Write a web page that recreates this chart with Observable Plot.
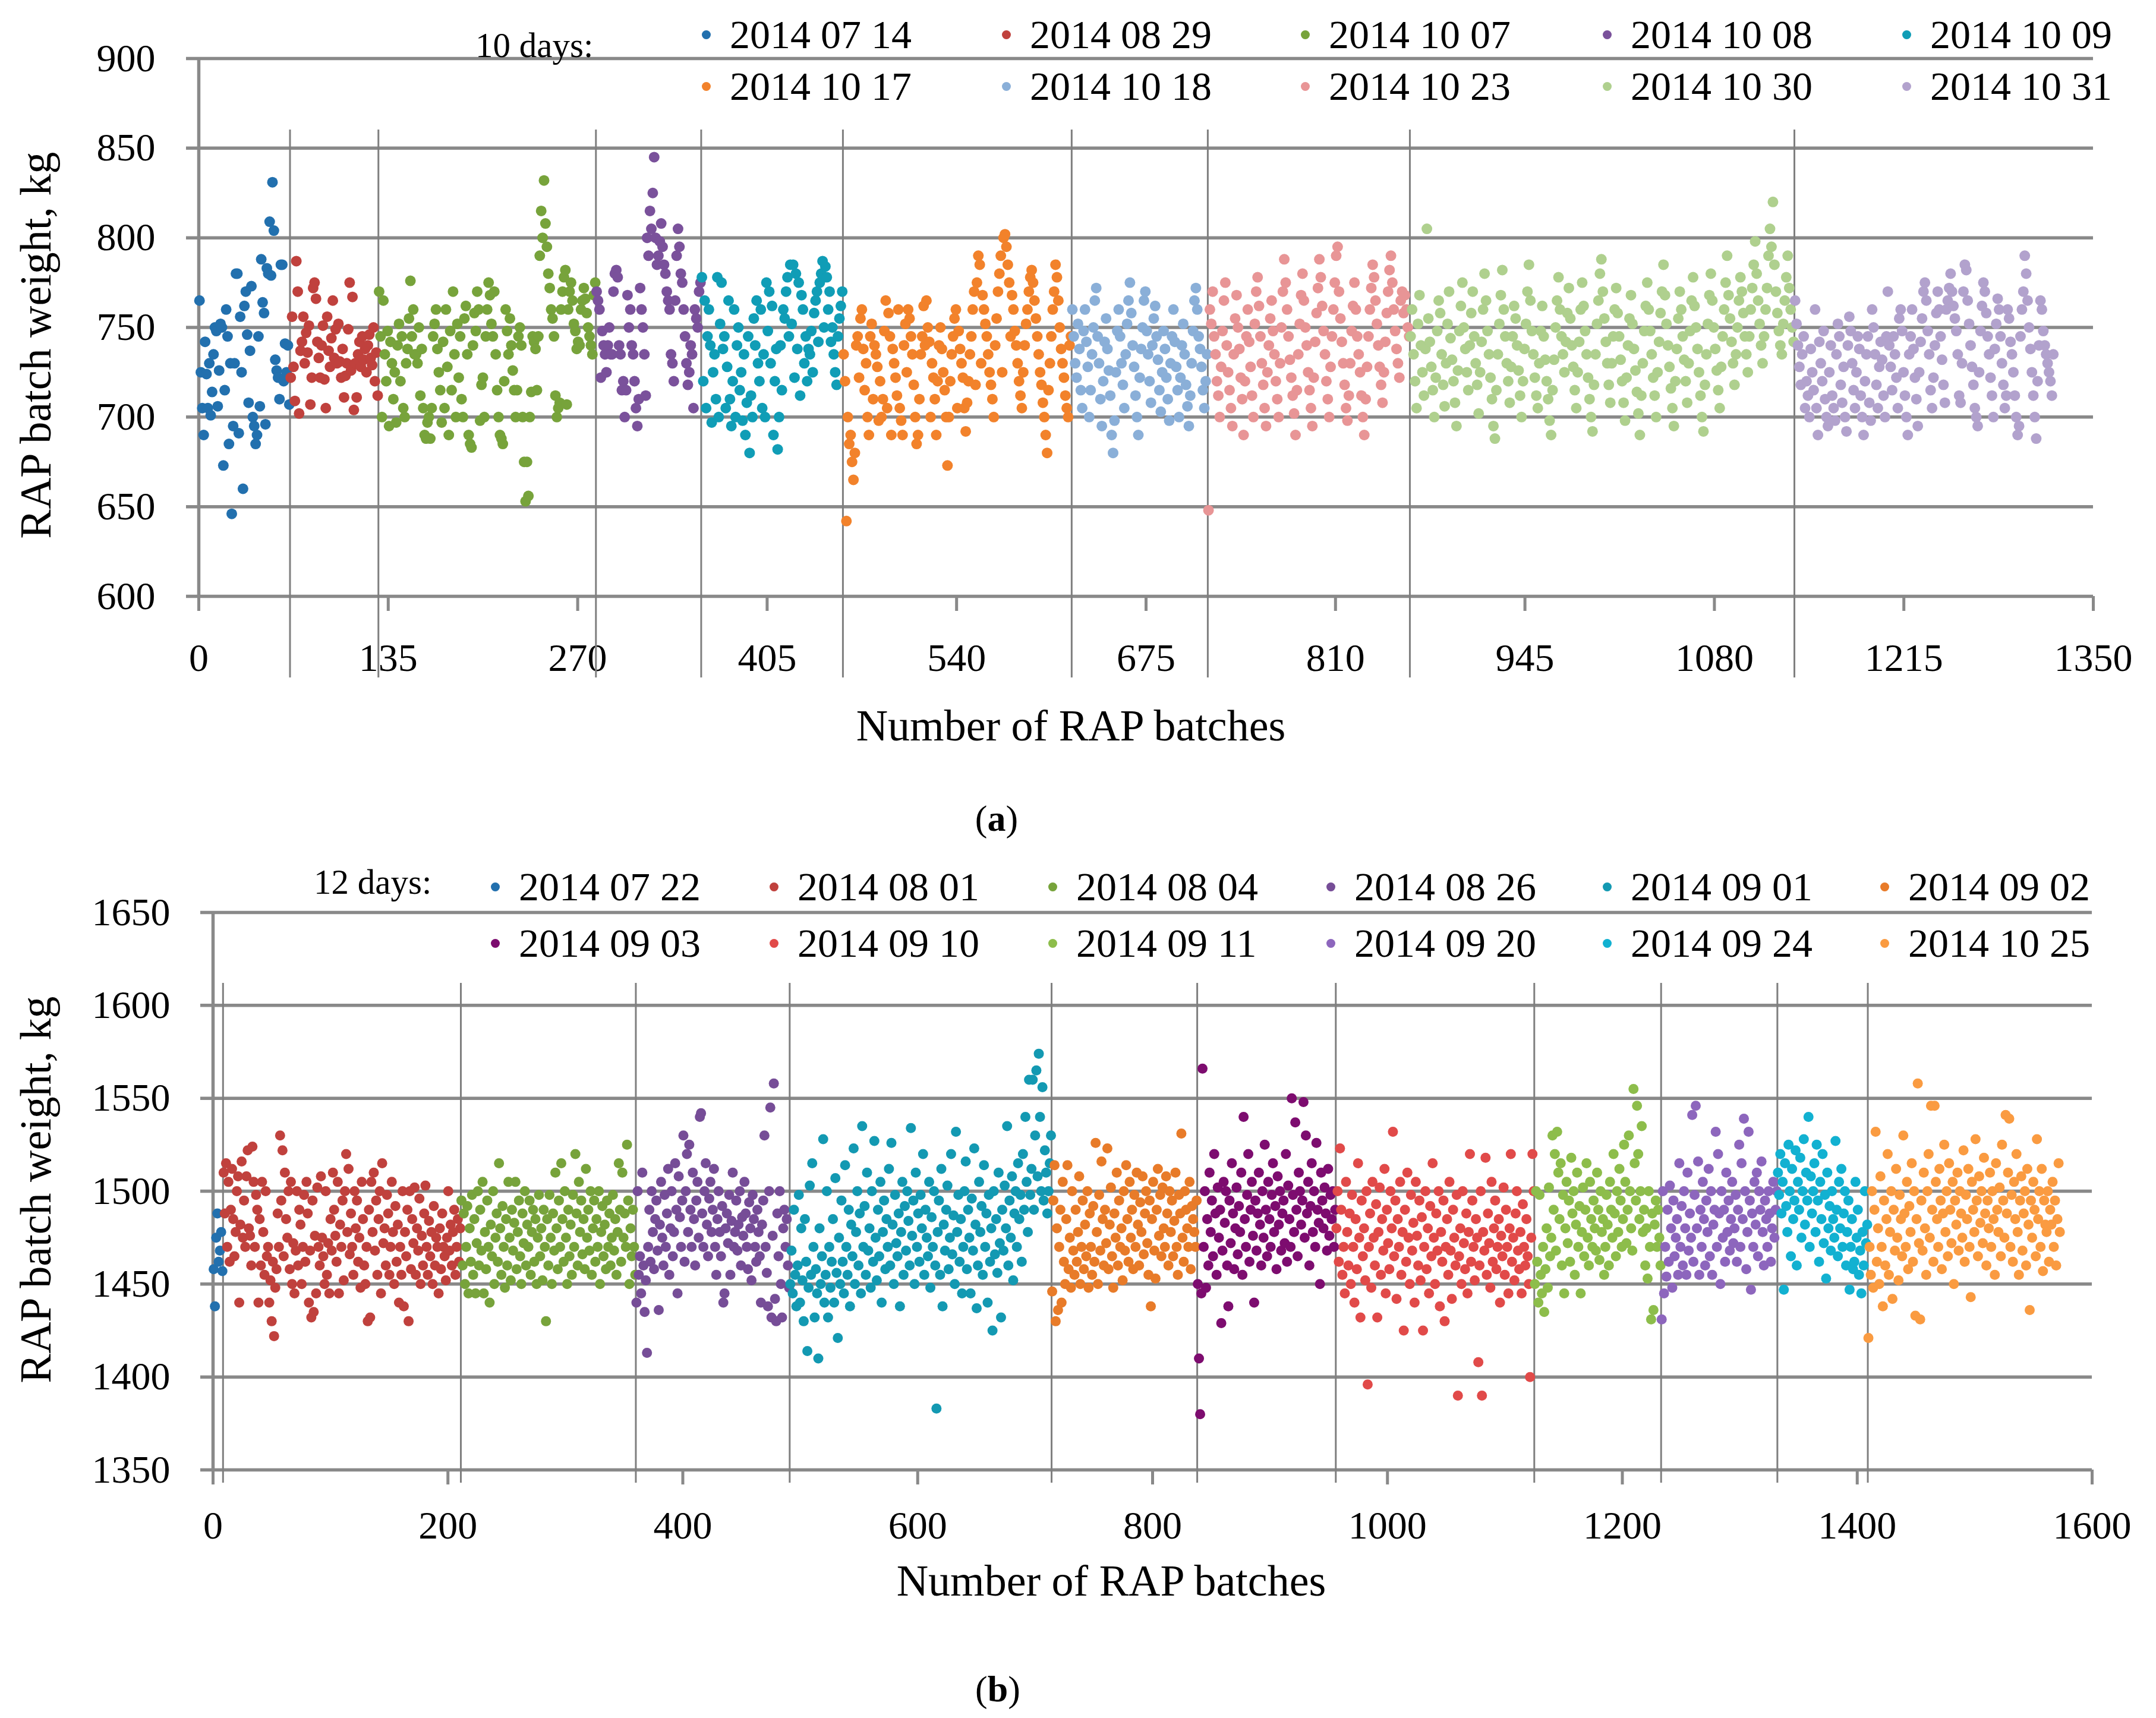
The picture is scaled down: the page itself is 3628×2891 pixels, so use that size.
<!DOCTYPE html>
<html><head><meta charset="utf-8">
<script src="https://cdn.jsdelivr.net/npm/d3@7"></script>
<script src="https://cdn.jsdelivr.net/npm/@observablehq/plot@0.6"></script>
<style>
html,body{margin:0;padding:0;background:#fff;}
#wrap{position:relative;width:3628px;height:2891px;background:#fff;font-family:"Liberation Serif",serif;color:#000;overflow:hidden;}
#wrap svg{position:absolute;left:0;}
.abs{position:absolute;white-space:nowrap;line-height:1;}
</style></head>
<body><div id="wrap"></div>
<script>
// ---------------- Panel (a) data ----------------
const datesA = ["2014 07 14","2014 08 29","2014 10 07","2014 10 08","2014 10 09","2014 10 17","2014 10 18","2014 10 23","2014 10 30","2014 10 31"];
const colorsA = ["#2270ae","#c0413d","#77a33b","#7a519b","#109db6","#f2822b","#8aafd8","#e89596","#afd08e","#b2a2cd"];
const boundsA = [0,65,128,283,358,459,622,719,863,1137,1322];   // day boundaries (batch no.)
const sepsA = [65,128,283,358,459,622,719,863,1137];
const xTicksA = [0,135,270,405,540,675,810,945,1080,1215,1350];
const yTicksA = [600,650,700,750,800,850,900];

const a0714 = [765,725,705,690,742,724,705,730,701,714,735,750,748,706,726,752,750,673,715,760,745,685,730,646,695,730,780,780,691,756,725,660,762,770,746,708,737,773,700,695,685,690,745,706,788,764,758,696,783,780,809,779,831,804,732,726,722,710,785,785,720,741,725,740,707];
const a0829 = [722,756,728,709,787,770,702,737,742,756,730,747,736,751,707,722,772,775,766,742,733,722,740,751,721,705,756,737,728,744,765,733,749,730,752,731,722,738,711,723,730,749,775,726,767,704,730,711,735,742,728,745,732,738,725,740,746,733,729,750,720,736,712];
const a1007 = [770,745,700,765,735,720,748,695,742,730,710,725,697,740,752,720,745,705,700,730,738,755,776,745,760,735,735,730,750,712,738,705,690,688,697,700,688,705,745,752,760,738,725,715,697,742,705,760,728,690,748,715,770,735,700,752,722,745,710,700,755,762,735,690,685,683,740,758,748,770,760,698,718,722,700,745,760,775,768,752,745,770,735,715,700,690,688,685,720,760,748,735,755,740,726,715,700,715,745,750,740,700,675,653,675,656,700,714,745,742,738,715,745,790,815,800,832,808,795,780,772,760,755,745,712,700,705,708,760,770,778,782,707,760,770,775,765,752,748,738,742,740,760,765,772,766,758,750,745,740,735,768,775];
const a1008 = [770,765,760,722,748,740,735,725,740,750,735,735,770,780,782,778,740,735,715,720,700,715,768,750,760,740,735,720,705,695,710,772,760,750,735,712,800,790,815,805,825,845,800,785,790,798,808,795,785,780,770,765,760,735,730,720,765,790,805,795,780,775,760,745,730,718,725,740,735,705,760,755,750,770,775];
const a1009 = [778,720,765,705,745,760,740,697,725,735,710,778,700,752,775,738,745,705,728,765,710,695,720,760,700,740,750,715,725,698,735,690,708,745,680,712,700,755,740,765,730,720,760,705,735,700,775,748,770,730,762,690,720,738,682,700,740,715,760,755,770,778,745,785,752,785,722,780,738,775,712,768,760,730,745,720,738,735,748,725,758,765,770,742,775,780,787,750,784,778,760,770,742,750,735,725,718,745,755,762,770];
const a1017 = [735,720,642,700,685,690,675,665,680,740,745,722,755,760,738,715,730,700,690,745,752,710,740,735,728,698,720,700,710,748,765,705,758,745,690,738,730,722,712,760,705,698,690,740,752,725,760,755,745,735,718,700,685,690,710,735,745,762,740,765,750,742,700,730,722,710,690,720,740,750,738,725,715,700,673,700,720,735,745,755,760,705,748,738,730,722,705,692,708,720,735,745,760,770,718,775,790,785,730,768,760,752,745,735,725,718,710,700,740,755,770,780,790,725,800,802,795,785,775,745,768,760,748,740,730,720,712,705,725,740,752,760,770,778,782,775,765,755,745,735,725,718,708,700,690,680,715,730,745,760,770,785,778,765,750,738,730,722,712,705,700,740,745];
const a1018 = [760,745,730,722,752,738,715,705,748,760,742,728,700,715,735,750,765,772,745,730,710,695,720,742,755,738,726,712,690,680,698,725,748,760,745,730,718,705,735,752,765,775,758,740,728,712,700,690,722,738,750,765,770,748,735,720,708,740,755,762,745,732,715,703,725,748,738,722,710,698,730,745,760,742,728,715,700,722,740,752,735,718,706,695,712,730,748,765,772,760,745,738,728,715,705,720,735];
const a1023 = [648,760,752,770,745,735,720,712,700,728,748,765,775,740,725,715,705,695,735,755,768,750,738,722,710,690,720,745,760,742,728,712,700,752,770,778,762,745,730,718,705,695,725,740,755,765,748,735,720,710,700,730,750,770,788,775,760,745,732,722,712,702,690,715,735,752,768,780,765,750,740,725,715,705,695,722,742,758,772,788,778,762,748,735,720,710,700,728,745,760,775,790,795,770,755,742,730,718,705,698,712,730,748,762,775,760,745,735,725,712,700,690,710,728,745,760,772,785,778,765,752,740,728,718,708,725,742,758,770,782,790,775,760,748,738,730,722,765,770,758,768,760,750,745];
const a1030 = [745,760,735,720,705,752,768,740,725,712,738,805,755,742,728,715,700,722,748,765,758,735,718,706,730,752,770,744,732,720,708,695,726,748,762,775,750,738,725,715,740,758,770,745,730,718,702,725,742,760,780,765,748,735,722,710,695,688,715,735,752,768,782,760,745,730,720,708,728,745,762,755,740,726,712,700,720,738,752,770,785,765,748,735,722,712,705,730,748,762,745,732,720,710,698,690,715,732,750,765,778,760,745,735,725,742,758,772,755,740,728,715,705,725,742,760,775,762,748,735,722,710,700,692,718,735,752,765,780,788,770,755,742,730,718,708,730,745,760,772,758,745,732,720,708,698,722,740,755,768,752,738,726,714,702,690,712,730,748,762,775,760,748,735,722,712,700,725,742,758,770,785,768,752,740,728,716,705,695,720,738,755,770,760,745,732,720,708,730,748,765,778,762,750,738,725,712,700,692,718,735,752,768,780,765,750,738,726,715,705,728,745,760,775,790,768,755,742,730,718,735,750,765,778,770,758,745,735,725,745,760,772,785,798,780,765,752,740,730,745,760,772,790,805,795,820,785,770,758,748,740,735,752,765,778,790,772,760,750,742];
const a1031 = [765,752,740,728,718,735,745,705,720,712,700,738,725,715,760,705,690,742,730,720,748,710,700,695,725,740,712,705,698,735,752,745,718,708,728,700,692,740,756,748,730,715,705,725,745,738,712,700,690,720,735,745,708,698,760,750,735,718,705,728,742,732,712,700,745,770,740,728,715,745,735,722,705,755,760,748,725,712,700,690,735,745,760,738,722,710,695,725,742,755,770,775,765,748,735,715,705,722,740,758,770,760,745,732,718,708,760,765,772,780,770,762,755,748,735,712,708,730,770,785,782,765,752,740,728,718,705,700,695,725,748,762,775,770,758,745,735,722,712,700,738,752,766,760,745,730,718,705,712,760,755,742,735,725,712,700,690,695,745,760,770,790,780,765,750,738,725,712,700,688,720,740,765,760,748,740,735,730,725,720,712,735];
const seriesA = [a0714,a0829,a1007,a1008,a1009,a1017,a1018,a1023,a1030,a1031];

// ---------------- Panel (b) data ----------------
const datesB = ["2014 07 22","2014 08 01","2014 08 04","2014 08 26","2014 09 01","2014 09 02","2014 09 03","2014 09 10","2014 09 11","2014 09 20","2014 09 24","2014 10 25"];
const colorsB = ["#2270ae","#c0413d","#77a33b","#764d97","#1399b2","#e87b29","#7d0c6f","#e14a49","#8dbd4b","#8d66bd","#12b1d1","#fa9b41"];
const boundsB = [0,8.5,211,360,491,714,838,956,1125,1233,1332,1409,1573];
const sepsB = [8.5,211,360,491,714,838,956,1125,1233,1332,1409];
const xTicksB = [0,200,400,600,800,1000,1200,1400,1600];
const yTicksB = [1350,1400,1450,1500,1550,1600,1650];

const b0722 = [1458,1438,1475,1488,1462,1468,1478,1457];
const b0801 = [1510,1488,1515,1470,1505,1462,1490,1512,1485,1465,1478,1500,1508,1440,1482,1516,1475,1495,1470,1508,1522,1480,1476,1460,1524,1505,1470,1498,1490,1440,1485,1460,1505,1478,1455,1500,1465,1470,1440,1452,1430,1462,1422,1448,1458,1488,1470,1530,1495,1522,1465,1510,1485,1475,1500,1458,1505,1450,1472,1445,1468,1500,1460,1490,1482,1450,1470,1498,1462,1505,1488,1440,1468,1432,1495,1435,1476,1445,1502,1470,1460,1508,1475,1465,1450,1500,1455,1472,1445,1485,1468,1510,1490,1476,1462,1505,1445,1482,1470,1495,1452,1500,1520,1478,1512,1466,1488,1470,1455,1500,1480,1495,1462,1475,1448,1505,1485,1460,1450,1470,1430,1490,1432,1505,1478,1510,1468,1495,1455,1485,1500,1445,1515,1472,1480,1460,1498,1488,1455,1470,1505,1478,1450,1492,1462,1482,1440,1470,1455,1500,1438,1478,1465,1490,1430,1500,1458,1485,1472,1502,1455,1480,1468,1496,1450,1476,1460,1488,1503,1470,1455,1484,1465,1478,1450,1492,1460,1475,1470,1445,1480,1458,1488,1470,1465,1452,1475,1500,1468,1482,1460,1478,1490,1455,1470,1485,1462,1480];
const b0804 = [1495,1460,1488,1450,1470,1492,1445,1480,1462,1498,1455,1485,1445,1472,1500,1460,1490,1468,1505,1445,1478,1458,1495,1470,1440,1482,1465,1500,1450,1475,1488,1462,1515,1480,1455,1492,1470,1448,1485,1460,1505,1475,1452,1490,1468,1483,1505,1458,1478,1495,1465,1450,1488,1472,1500,1460,1482,1470,1495,1455,1478,1490,1462,1485,1450,1475,1498,1465,1480,1452,1490,1470,1430,1485,1460,1498,1475,1450,1488,1468,1510,1480,1458,1495,1470,1515,1485,1462,1500,1475,1450,1490,1465,1482,1455,1498,1470,1520,1488,1460,1505,1478,1495,1466,1485,1458,1512,1475,1490,1468,1500,1455,1480,1495,1462,1485,1470,1500,1450,1478,1492,1465,1482,1458,1495,1470,1488,1460,1475,1498,1468,1485,1455,1478,1515,1490,1462,1510,1475,1488,1470,1525,1495,1450,1480,1465,1490,1470,1455];
const b0826 = [1440,1500,1455,1465,1445,1510,1460,1435,1452,1413,1470,1490,1462,1500,1478,1458,1485,1495,1468,1436,1482,1505,1475,1460,1498,1470,1488,1512,1455,1480,1500,1465,1478,1515,1490,1445,1508,1486,1470,1495,1530,1462,1500,1520,1478,1525,1490,1470,1510,1485,1460,1495,1505,1475,1540,1542,1488,1470,1500,1515,1482,1465,1496,1505,1478,1490,1512,1470,1455,1485,1500,1478,1465,1492,1440,1445,1480,1488,1472,1498,1455,1484,1510,1470,1478,1495,1468,1482,1500,1460,1486,1476,1505,1488,1470,1458,1494,1480,1452,1498,1485,1470,1462,1490,1478,1465,1440,1482,1495,1530,1470,1456,1438,1500,1545,1432,1476,1558,1442,1430,1488,1465,1500,1450,1432,1480,1490,1470,1485,1460,1448];
const b0901 = [1450,1468,1445,1490,1455,1438,1460,1498,1440,1480,1452,1430,1485,1462,1414,1448,1503,1455,1515,1470,1432,1458,1445,1410,1480,1450,1465,1528,1440,1455,1500,1432,1470,1448,1462,1485,1440,1507,1456,1421,1475,1450,1495,1462,1445,1514,1470,1455,1490,1438,1482,1465,1523,1450,1478,1500,1460,1488,1445,1535,1470,1492,1455,1510,1468,1480,1448,1500,1462,1527,1475,1452,1490,1465,1505,1440,1478,1495,1458,1485,1470,1512,1460,1526,1482,1450,1498,1472,1465,1488,1438,1478,1505,1455,1492,1468,1500,1484,1460,1534,1476,1495,1450,1510,1470,1488,1462,1498,1480,1520,1455,1490,1475,1465,1505,1448,1486,1470,1500,1460,1383,1478,1495,1455,1512,1438,1482,1468,1490,1503,1458,1475,1520,1466,1487,1450,1532,1478,1498,1462,1485,1445,1470,1500,1516,1458,1490,1475,1445,1496,1468,1523,1482,1437,1460,1505,1478,1492,1455,1514,1470,1488,1440,1498,1462,1480,1425,1500,1466,1485,1456,1510,1472,1432,1490,1468,1503,1480,1535,1460,1495,1475,1508,1452,1488,1500,1470,1515,1485,1498,1462,1520,1490,1540,1505,1478,1560,1498,1512,1560,1490,1530,1565,1508,1574,1540,1500,1556,1495,1522,1510,1488,1500,1515,1530];
const b0902 = [1446,1495,1514,1430,1480,1436,1470,1490,1440,1505,1462,1450,1485,1514,1458,1475,1448,1500,1468,1455,1490,1462,1478,1508,1450,1470,1495,1458,1482,1465,1500,1448,1488,1470,1455,1492,1462,1526,1478,1450,1498,1468,1516,1485,1460,1490,1472,1523,1458,1482,1502,1465,1448,1488,1475,1510,1460,1495,1470,1480,1452,1500,1468,1514,1485,1462,1505,1475,1490,1458,1498,1470,1510,1482,1460,1494,1478,1508,1466,1488,1500,1472,1455,1495,1438,1485,1505,1468,1453,1490,1512,1476,1498,1465,1502,1480,1470,1508,1488,1460,1500,1478,1495,1465,1484,1510,1470,1455,1498,1488,1531,1475,1462,1500,1490,1480,1470,1505,1458,1492,1485,1478,1470,1495];
const b0903 = [1450,1410,1380,1445,1566,1470,1500,1448,1485,1460,1510,1478,1495,1465,1520,1488,1455,1502,1475,1490,1429,1468,1505,1483,1500,1460,1438,1495,1472,1515,1488,1458,1480,1502,1466,1492,1478,1510,1455,1540,1485,1470,1498,1520,1462,1490,1505,1476,1440,1495,1468,1488,1510,1482,1460,1500,1475,1525,1490,1465,1505,1485,1470,1498,1515,1478,1492,1458,1508,1482,1500,1468,1488,1495,1472,1520,1462,1503,1485,1470,1550,1498,1478,1537,1490,1465,1510,1500,1482,1495,1548,1475,1530,1488,1505,1460,1492,1515,1478,1500,1470,1526,1490,1483,1450,1510,1495,1480,1502,1488,1468,1512,1476,1498,1485,1500,1470,1490];
const b0910 = [1480,1500,1462,1523,1490,1455,1470,1445,1505,1478,1460,1488,1450,1498,1470,1440,1485,1458,1515,1475,1432,1495,1465,1480,1452,1500,1396,1470,1488,1448,1505,1475,1460,1493,1432,1478,1502,1455,1485,1468,1512,1445,1490,1472,1458,1500,1480,1532,1465,1495,1442,1485,1470,1505,1455,1478,1425,1490,1462,1510,1475,1450,1498,1468,1483,1440,1505,1476,1460,1495,1452,1486,1425,1470,1500,1458,1480,1445,1492,1465,1515,1475,1450,1488,1468,1500,1438,1478,1462,1495,1430,1470,1485,1455,1505,1468,1442,1490,1475,1460,1498,1390,1465,1480,1450,1500,1472,1458,1488,1445,1478,1520,1462,1495,1470,1452,1485,1475,1408,1460,1500,1390,1478,1468,1518,1455,1488,1472,1448,1505,1462,1480,1495,1458,1470,1485,1440,1476,1465,1502,1455,1490,1470,1445,1480,1520,1462,1475,1452,1488,1500,1468,1458,1478,1445,1493,1470,1460,1485,1465,1450,1400,1475,1520,1500];
const b0911 = [1450,1500,1462,1440,1498,1455,1445,1470,1435,1458,1480,1448,1502,1465,1475,1530,1490,1520,1468,1532,1510,1485,1515,1460,1498,1445,1480,1505,1472,1495,1462,1518,1488,1500,1455,1482,1510,1470,1492,1445,1478,1502,1465,1490,1515,1475,1460,1505,1485,1470,1495,1480,1468,1510,1490,1463,1500,1478,1485,1455,1470,1498,1482,1460,1505,1490,1475,1520,1488,1465,1500,1478,1512,1495,1470,1485,1525,1505,1472,1490,1530,1500,1480,1468,1555,1515,1495,1546,1520,1485,1500,1535,1478,1490,1460,1480,1453,1500,1470,1431,1488,1436,1482,1495,1470,1490,1475,1460];
const b0920 = [1431,1500,1445,1470,1454,1490,1462,1503,1480,1448,1495,1465,1475,1485,1455,1515,1470,1492,1460,1500,1480,1455,1510,1468,1488,1475,1541,1462,1498,1546,1480,1516,1455,1490,1470,1505,1485,1460,1495,1478,1512,1465,1500,1455,1482,1490,1532,1470,1520,1488,1450,1500,1475,1490,1462,1510,1478,1495,1468,1485,1505,1472,1480,1498,1462,1490,1525,1470,1515,1485,1539,1500,1458,1478,1532,1495,1447,1488,1470,1505,1482,1510,1465,1500,1490,1516,1478,1460,1495,1485,1470,1500,1488,1462,1480,1505,1475,1490,1500];
const b0924 = [1510,1498,1520,1488,1505,1447,1515,1492,1478,1525,1500,1465,1512,1485,1495,1522,1460,1505,1490,1518,1475,1500,1528,1482,1510,1495,1540,1470,1508,1488,1500,1515,1478,1525,1495,1462,1505,1485,1520,1472,1498,1453,1510,1480,1492,1468,1500,1485,1475,1527,1490,1465,1505,1480,1512,1470,1488,1500,1460,1478,1495,1447,1470,1485,1458,1462,1505,1475,1490,1455,1468,1445,1478,1460,1500,1472,1482];
const b1025 = [1421,1470,1455,1500,1448,1490,1532,1462,1480,1450,1508,1470,1438,1495,1460,1485,1520,1455,1478,1500,1442,1490,1468,1512,1475,1452,1498,1485,1465,1530,1488,1470,1505,1458,1492,1478,1515,1462,1500,1433,1485,1558,1472,1431,1495,1468,1510,1480,1455,1500,1520,1475,1546,1490,1462,1546,1505,1485,1470,1512,1495,1458,1488,1525,1478,1500,1465,1515,1490,1472,1505,1450,1495,1482,1510,1468,1500,1488,1475,1522,1462,1498,1485,1512,1470,1443,1505,1490,1478,1528,1495,1465,1508,1483,1500,1472,1518,1488,1460,1495,1480,1510,1470,1500,1485,1455,1515,1490,1478,1502,1465,1525,1495,1475,1541,1488,1510,1539,1470,1498,1462,1505,1485,1520,1478,1455,1495,1508,1468,1488,1500,1460,1512,1482,1436,1495,1475,1505,1490,1465,1528,1485,1500,1470,1512,1457,1495,1482,1478,1500,1462,1490,1482,1505,1470,1495,1460,1485,1515,1478];
const seriesB = [b0722,b0801,b0804,b0826,b0901,b0902,b0903,b0910,b0911,b0920,b0924,b1025];

// ---------------- helpers ----------------
const GRID = "#898989", SEP = "#7f7f7f", FONT = "'Liberation Serif', serif";
function rowsOf(series, bounds, dates) {
  const rows = [];
  series.forEach((vals, k) => {
    const a = bounds[k], b = bounds[k + 1], step = (b - a) / vals.length;
    vals.forEach((v, i) => rows.push({batch: a + (i + 0.5) * step, weight: v, day: dates[k]}));
  });
  return rows;
}
function panel(o) {
  const fh = o.H - o.mt - o.mb;
  const svg = Plot.plot({
    width: 3628, height: o.H, marginTop: o.mt, marginBottom: o.mb, marginLeft: o.ml, marginRight: o.mr,
    style: {fontFamily: FONT, fontSize: "66px", color: "#000", background: "transparent", overflow: "visible"},
    x: {domain: o.xDomain, ticks: o.xTicks, tickSize: 0, tickPadding: o.xPad, label: null, tickFormat: d => String(d)},
    y: {domain: o.yDomain, ticks: o.yTicks, tickSize: 0, tickPadding: o.yPad, label: null, tickFormat: d => String(d)},
    color: {domain: o.dates, range: o.colors},
    marks: [
      Plot.ruleY(o.yTicks, {stroke: GRID, strokeWidth: 5.5, insetLeft: -21}),
      Plot.ruleX([o.xDomain[0]], {stroke: GRID, strokeWidth: 5.5}),
      Plot.ruleX(o.xTicks, {stroke: GRID, strokeWidth: 5, insetTop: fh, insetBottom: -25}),
      Plot.ruleX(o.seps, {stroke: SEP, strokeWidth: 3, insetTop: o.sepTop, insetBottom: -o.sepBottom}),
      Plot.dot(o.rows, {x: "batch", y: "weight", fill: "day", r: o.r})
    ]
  });
  svg.style.top = o.top + "px";
  return svg;
}
const wrap = document.getElementById("wrap");
function addText(txt, left, top, size, extra) {
  const d = document.createElement("div");
  d.className = "abs";
  d.innerHTML = txt;
  d.style.left = left + "px"; d.style.top = top + "px"; d.style.fontSize = size + "px";
  if (extra) Object.assign(d.style, extra);
  wrap.appendChild(d);
  return d;
}
function legend(dates, colors, colX, rowY) {
  dates.forEach((d, i) => {
    const c = i % colX.length, r = Math.floor(i / colX.length);
    const dot = document.createElement("div");
    dot.className = "abs";
    Object.assign(dot.style, {left: (colX[c] - 7.5) + "px", top: (rowY[r] - 7.5) + "px", width: "15px", height: "15px", borderRadius: "50%", background: colors[i]});
    wrap.appendChild(dot);
    addText(d, colX[c] + 40, rowY[r] - 34, 68);
  });
}

// ---------------- panel (a) ----------------
wrap.appendChild(panel({
  rows: rowsOf(seriesA, boundsA, datesA), dates: datesA, colors: colorsA,
  xDomain: [0, 1350], xTicks: xTicksA, yDomain: [600, 900], yTicks: yTicksA, seps: sepsA,
  top: 0, H: 1200, mt: 98, mb: 197, ml: 334, mr: 106, r: 9, xPad: 79, yPad: 73, sepTop: 120, sepBottom: 137
}));
// ---------------- panel (b) ----------------
wrap.appendChild(panel({
  rows: rowsOf(seriesB, boundsB, datesB), dates: datesB, colors: colorsB,
  xDomain: [0, 1600], xTicks: xTicksB, yDomain: [1350, 1650], yTicks: yTicksB, seps: sepsB,
  top: 1400, H: 1320, mt: 135, mb: 247, ml: 358, mr: 108, r: 8.5, xPad: 69, yPad: 72, sepTop: 119, sepBottom: 22
}));

// ---------------- texts and legends ----------------
const center = {transform: "translate(-50%,-50%)"};
const rot = {transform: "translate(-50%,-50%) rotate(-90deg)"};
addText("RAP batch weight, kg", 60, 581, 74, rot);
addText("RAP batch weight, kg", 60, 2002, 74, rot);
addText("Number of RAP batches", 1802, 1221, 74, center);
addText("Number of RAP batches", 1870, 2660, 74, center);
addText("(<b>a</b>)", 1677, 1377, 62, center);
addText("(<b>b</b>)", 1679, 2842, 62, center);
addText("10 days:", 800, 76 - 29.5, 59);
addText("12 days:", 528, 1484 - 29.5, 59);
legend(datesA, colorsA, [1188, 1693, 2196, 2704, 3208], [58, 145]);
legend(datesB, colorsB, [833, 1302, 1771, 2239, 2704, 3171], [1492, 1587]);
</script>
</body></html>
